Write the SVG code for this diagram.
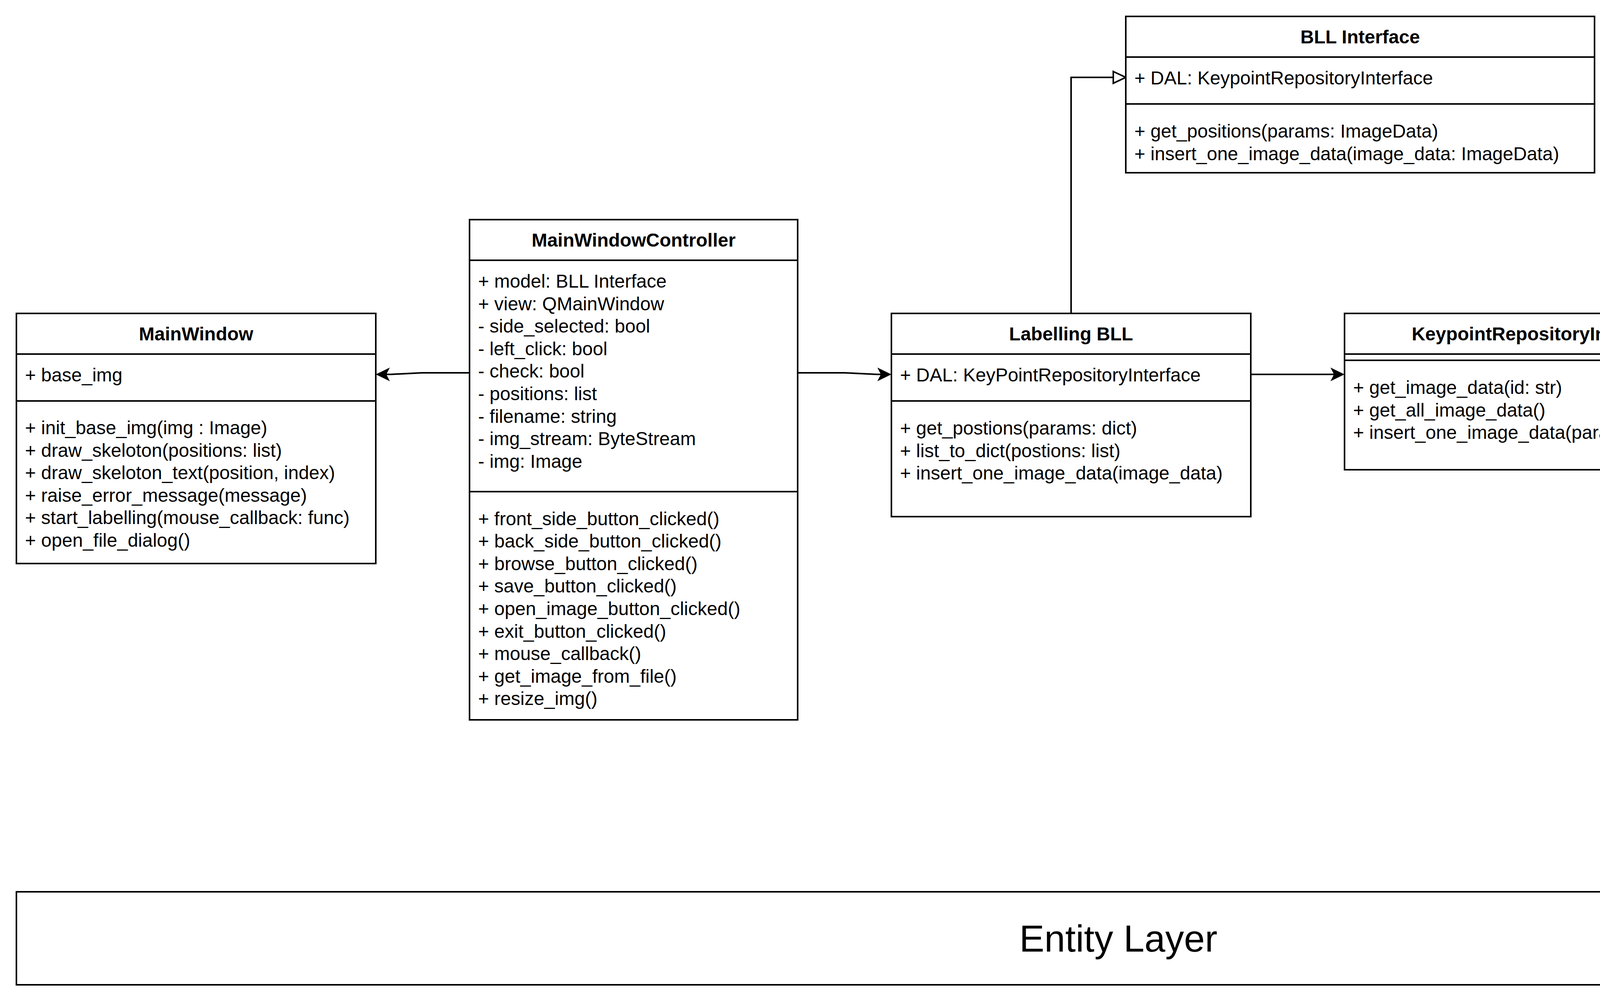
<svg xmlns="http://www.w3.org/2000/svg" width="5724" height="2564" viewBox="0 0 5724 2564">
<style>
.bg{fill:#fff}
.box{fill:#fff;stroke:#000;stroke-width:4}
.sep{stroke:#000;stroke-width:4;fill:none}
.t{font-family:"Liberation Sans",Arial,Helvetica,sans-serif;font-size:48px;fill:#000}
.ttl{font-weight:bold;text-anchor:middle}
.edge{fill:none;stroke:#000;stroke-width:4}
.big{font-family:"Liberation Sans",Arial,Helvetica,sans-serif;font-size:96px;fill:#000;text-anchor:middle}
</style>
<defs>
<marker id="classic" markerUnits="userSpaceOnUse" markerWidth="40" markerHeight="40" refX="9" refY="17.5" orient="auto" style="overflow:visible">
<path d="M0,0 L36,17.5 L0,35 L9,17.5 Z" fill="#000"/>
</marker>
<marker id="hollow" markerUnits="userSpaceOnUse" markerWidth="40" markerHeight="40" refX="0" refY="15" orient="auto" style="overflow:visible">
<path d="M0,0 L32,15 L0,30 Z" fill="#fff" stroke="#000" stroke-width="4"/>
</marker>
</defs>
<rect class="bg" x="0" y="0" width="5724" height="2564"/>

<g id="connectors">
<path class="edge" d="M1202,954 L1080,954 L1000,958 L989,958" marker-end="url(#classic)"/>
<path class="edge" d="M2042,954 L2163,954 L2245,958 L2255,958" marker-end="url(#classic)"/>
<path class="edge" d="M3202,958 L3415,958" marker-end="url(#classic)"/>
<path class="edge" d="M2742,802 L2742,198 L2850,198" marker-end="url(#hollow)"/>
<path class="edge" d="M4642,598 L4542,598 L4542,1070 L4474,1070" marker-end="url(#hollow)"/>
<path class="edge" d="M4642,1398 L4542,1398 L4542,1070 L4474,1070" marker-end="url(#hollow)"/>
</g>

<g id="MainWindow">
<rect class="box" x="42" y="802" width="920" height="640"/>
<line class="sep" x1="42" y1="906" x2="962" y2="906"/>
<line class="sep" x1="42" y1="1026" x2="962" y2="1026"/>
<text class="t ttl" x="502" y="871">MainWindow</text>
<text class="t" x="64" y="976">+ base_img</text>
<text class="t">
<tspan x="64" y="1111">+ init_base_img(img : Image)</tspan>
<tspan x="64" y="1168.6">+ draw_skeloton(positions: list)</tspan>
<tspan x="64" y="1226.2">+ draw_skeloton_text(position, index)</tspan>
<tspan x="64" y="1283.8">+ raise_error_message(message)</tspan>
<tspan x="64" y="1341.4">+ start_labelling(mouse_callback: func)</tspan>
<tspan x="64" y="1399">+ open_file_dialog()</tspan>
</text>
</g>

<g id="MainWindowController">
<rect class="box" x="1202" y="562" width="840" height="1280"/>
<line class="sep" x1="1202" y1="666" x2="2042" y2="666"/>
<line class="sep" x1="1202" y1="1258" x2="2042" y2="1258"/>
<text class="t ttl" x="1622" y="631">MainWindowController</text>
<text class="t">
<tspan x="1224" y="736">+ model: BLL Interface</tspan>
<tspan x="1224" y="793.6">+ view: QMainWindow</tspan>
<tspan x="1224" y="851.2">- side_selected: bool</tspan>
<tspan x="1224" y="908.8">- left_click: bool</tspan>
<tspan x="1224" y="966.4">- check: bool</tspan>
<tspan x="1224" y="1024">- positions: list</tspan>
<tspan x="1224" y="1081.6">- filename: string</tspan>
<tspan x="1224" y="1139.2">- img_stream: ByteStream</tspan>
<tspan x="1224" y="1196.8">- img: Image</tspan>
</text>
<text class="t">
<tspan x="1224" y="1343.5">+ front_side_button_clicked()</tspan>
<tspan x="1224" y="1401.1">+ back_side_button_clicked()</tspan>
<tspan x="1224" y="1458.7">+ browse_button_clicked()</tspan>
<tspan x="1224" y="1516.3">+ save_button_clicked()</tspan>
<tspan x="1224" y="1573.9">+ open_image_button_clicked()</tspan>
<tspan x="1224" y="1631.5">+ exit_button_clicked()</tspan>
<tspan x="1224" y="1689.1">+ mouse_callback()</tspan>
<tspan x="1224" y="1746.7">+ get_image_from_file()</tspan>
<tspan x="1224" y="1804.3">+ resize_img()</tspan>
</text>
</g>

<g id="LabellingBLL">
<rect class="box" x="2282" y="802" width="920" height="520"/>
<line class="sep" x1="2282" y1="906" x2="3202" y2="906"/>
<line class="sep" x1="2282" y1="1026" x2="3202" y2="1026"/>
<text class="t ttl" x="2742" y="871">Labelling BLL</text>
<text class="t" x="2304" y="976">+ DAL: KeyPointRepositoryInterface</text>
<text class="t">
<tspan x="2304" y="1112">+ get_postions(params: dict)</tspan>
<tspan x="2304" y="1169.6">+ list_to_dict(postions: list)</tspan>
<tspan x="2304" y="1227.2">+ insert_one_image_data(image_data)</tspan>
</text>
</g>

<g id="BLLInterface">
<rect class="box" x="2882" y="42" width="1200" height="400"/>
<line class="sep" x1="2882" y1="146" x2="4082" y2="146"/>
<line class="sep" x1="2882" y1="266" x2="4082" y2="266"/>
<text class="t ttl" x="3482" y="111">BLL Interface</text>
<text class="t" x="2904" y="216">+ DAL: KeypointRepositoryInterface</text>
<text class="t">
<tspan x="2904" y="352">+ get_positions(params: ImageData)</tspan>
<tspan x="2904" y="409.6">+ insert_one_image_data(image_data: ImageData)</tspan>
</text>
</g>

<g id="KeypointRepositoryInterface">
<rect class="box" x="3442" y="802" width="1000" height="400"/>
<line class="sep" x1="3442" y1="906" x2="4442" y2="906"/>
<line class="sep" x1="3442" y1="922" x2="4442" y2="922"/>
<text class="t ttl" x="3942" y="871">KeypointRepositoryInterface</text>
<text class="t">
<tspan x="3464" y="1008">+ get_image_data(id: str)</tspan>
<tspan x="3464" y="1065.6">+ get_all_image_data()</tspan>
<tspan x="3464" y="1123.2">+ insert_one_image_data(parameters: str)</tspan>
</text>
</g>

<g id="JSONRepo">
<rect class="box" x="4642" y="442" width="1000" height="440"/>
<line class="sep" x1="4642" y1="546" x2="5642" y2="546"/>
<line class="sep" x1="4642" y1="666" x2="5642" y2="666"/>
<text class="t ttl" x="5142" y="511">JSON Repo</text>
<text class="t" x="4664" y="616">+ file_path: str</text>
<text class="t" xml:space="preserve" style="white-space:pre"><tspan x="4664" y="752">+ get_image_data(id: str)</tspan><tspan x="4664" y="809.6">+ get_all_image_data()</tspan><tspan x="4664" y="867.2">+  insert_one_image_data(parameters: str)</tspan></text>
</g>

<g id="MongoDBRepo">
<rect class="box" x="4642" y="1242" width="960" height="520"/>
<line class="sep" x1="4642" y1="1346" x2="5602" y2="1346"/>
<line class="sep" x1="4642" y1="1466" x2="5602" y2="1466"/>
<text class="t ttl" x="5122" y="1311">MongoDB Repo</text>
<text class="t" x="4664" y="1416">+ connection_string: str</text>
<text class="t" xml:space="preserve" style="white-space:pre"><tspan x="4664" y="1552">+ get_image_data(id: str)</tspan><tspan x="4664" y="1609.6">+ get_all_image_data()</tspan><tspan x="4664" y="1667.2">+  insert_one_image_data(parameters: str)</tspan></text>
</g>

<g id="EntityLayer">
<rect class="box" x="42" y="2282" width="5642" height="238"/>
<text class="big" x="2863" y="2435">Entity Layer</text>
</g>
</svg>
